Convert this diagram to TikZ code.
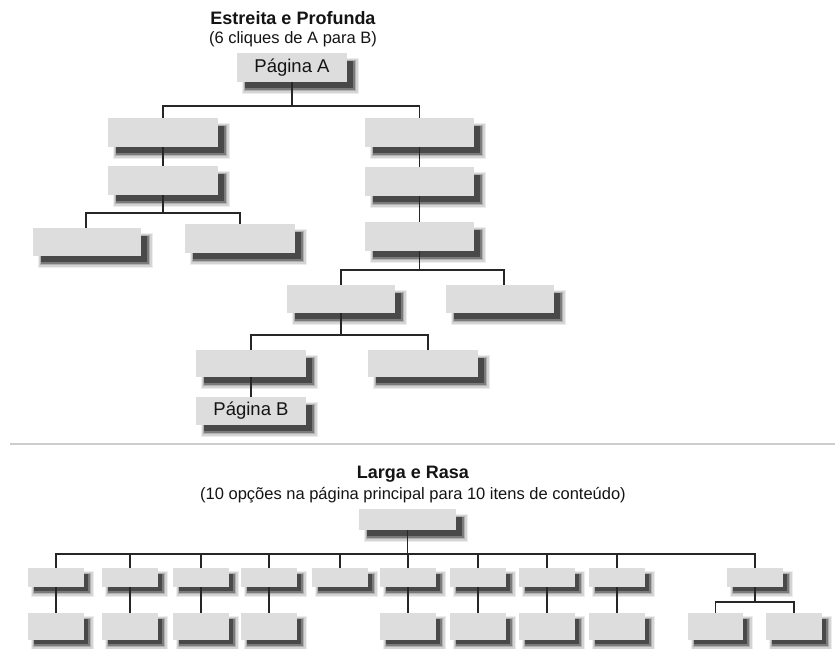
\documentclass[tikz,border=0pt]{standalone}
\usepackage{fontspec}
\setmainfont{Liberation Sans}
\usetikzlibrary{calc}

\pgfdeclarelayer{paperlayer}
\pgfdeclarelayer{shadowlayer}
\pgfdeclarelayer{edgelayer}
\pgfsetlayers{paperlayer,shadowlayer,edgelayer,main}

\definecolor{boxfill}{RGB}{221,221,221}
\definecolor{linkcol}{RGB}{38,38,38}
\definecolor{rulecol}{RGB}{205,205,205}
\definecolor{inkcol}{RGB}{20,20,20}

\tikzset{
  pagenode/.style={fill=boxfill, inner sep=0pt, outer sep=0pt, text=inkcol,
    font=\fontsize{18.5}{20}\selectfont},
  link/.style={draw=linkcol, line width=1.9pt},
  titletext/.style={font=\fontsize{18}{20}\selectfont\bfseries, text=inkcol, inner sep=0pt},
  subtext/.style={font=\fontsize{16.5}{19}\selectfont, text=inkcol, inner sep=0pt},
}

% \pagebox[shadow offset]{name}{x1}{y1}{x2}{y2}{label}
% the soft drop shadow is built from stacked translucent rectangles
\newcommand\pagebox[7][8]{%
  \node[pagenode, minimum width={(#5)-(#3)}, minimum height={(#6)-(#4)}]
    (#2) at ({((#3)+(#5))/2},{((#4)+(#6))/2}) {#7};
  \begin{pgfonlayer}{shadowlayer}
    \fill[black,opacity=.07] ($(#2.north west)+({#1-3},{#1-3})$) rectangle ($(#2.south east)+({#1+3.5},{#1+3.5})$);
    \fill[black,opacity=.10] ($(#2.north west)+({#1-2},{#1-2})$) rectangle ($(#2.south east)+({#1+2.5},{#1+2.5})$);
    \fill[black,opacity=.16] ($(#2.north west)+({#1-1},{#1-1})$) rectangle ($(#2.south east)+({#1+1.2},{#1+1.2})$);
    \fill[black,opacity=.30] ($(#2.north west)+(#1,#1)$) rectangle ($(#2.south east)+({#1},{#1})$);
    \fill[black,opacity=.40] ($(#2.north west)+(#1,#1)$) rectangle ($(#2.south east)+({#1-2.5},{#1-2.5})$);
  \end{pgfonlayer}}

\begin{document}
\begin{tikzpicture}[x=1pt,y=-1pt]
\useasboundingbox (0,0) rectangle (835,648);
\begin{pgfonlayer}{paperlayer}
  \fill[white] (0,0) rectangle (835,648);
\end{pgfonlayer}

% ---------- narrow and deep ----------
\node[titletext, anchor=base] (t1) at (293,24) {Estreita e Profunda};
\node[subtext, anchor=base] (s1) at (293,43) {(6 cliques de A para B)};

\pagebox{pa}{237}{53}{347}{82}{Página A}
\pagebox{l1}{108}{118}{218}{147}{}
\pagebox{l2}{108}{166}{218}{195}{}
\pagebox{l3}{33}{228}{141}{256}{}
\pagebox{l4}{185}{224}{295}{253}{}
\pagebox{r1}{365}{118}{474}{147}{}
\pagebox{r2}{365}{167}{474}{196}{}
\pagebox{r3}{365}{222}{474}{251}{}
\pagebox{r4}{287}{285}{395}{313}{}
\pagebox{r5}{446}{285}{554}{313}{}
\pagebox{r6}{196}{350}{306}{377}{}
\pagebox{r7}{368}{350}{478}{377}{}
\pagebox{pb}{196}{397}{306}{425}{Página B}

\begin{pgfonlayer}{edgelayer}
  \draw[link] (pa.south) -- ++(0,24) -| (l1.north);
  \draw[link] (pa.south) -- ++(0,24) -| (r1.north);
  \draw[link] (l1.south) -- (l2.north);
  \draw[link] (l2.south) -- ++(0,18) -| ([xshift=-1pt]l3.north);
  \draw[link] (l2.south) -- ++(0,18) -| (l4.north);
  \draw[link] (r1.south) -- (r2.north);
  \draw[link] (r2.south) -- (r3.north);
  \draw[link] (r3.south) -- ++(0,19) -| (r4.north);
  \draw[link] (r3.south) -- ++(0,19) -| ([xshift=4pt]r5.north);
  \draw[link] (r4.south) -- ++(0,22) -| (r6.north);
  \draw[link] (r4.south) -- ++(0,22) -| ([xshift=5pt]r7.north);
  \draw[link] (r6.south) -- (pb.north);
\end{pgfonlayer}

% ---------- separator ----------
\coordinate (sepL) at (10,444);
\coordinate (sepR) at (835,444);
\draw[rulecol, line width=1.6pt] (sepL) -- (sepR);

% ---------- wide and shallow ----------
\node[titletext, anchor=base] (t2) at (413,478) {Larga e Rasa};
\node[subtext, anchor=base] (s2) at (413,499) {(10 opções na página principal para 10 itens de conteúdo)};

\pagebox{root}{359}{509}{456}{530}{}

\foreach \i/\cx in {1/56,2/130,3/201,4/269,5/340,6/408,7/478,8/547,9/617,10/755}{
  \pagebox[6]{m\i}{\cx-28}{568}{\cx+28}{587}{}
  \begin{pgfonlayer}{edgelayer}
    \draw[link] (root.south) -- ++(0,24) -| (m\i.north);
  \end{pgfonlayer}
}

\foreach \i/\cx in {1/56,2/130,3/201,4/269,6/408,7/478,8/547,9/617}{
  \pagebox[6]{n\i}{\cx-28}{613}{\cx+28}{640}{}
  \begin{pgfonlayer}{edgelayer}
    \draw[link] (m\i.south) -- (n\i.north);
  \end{pgfonlayer}
}

\pagebox[6]{c1}{688}{613}{743}{640}{}
\pagebox[6]{c2}{766}{613}{822}{640}{}
\begin{pgfonlayer}{edgelayer}
  \draw[link] (m10.south) -- ++(0,15) -| (c1.north);
  \draw[link] (m10.south) -- ++(0,15) -| (c2.north);
\end{pgfonlayer}
\end{tikzpicture}
\end{document}
